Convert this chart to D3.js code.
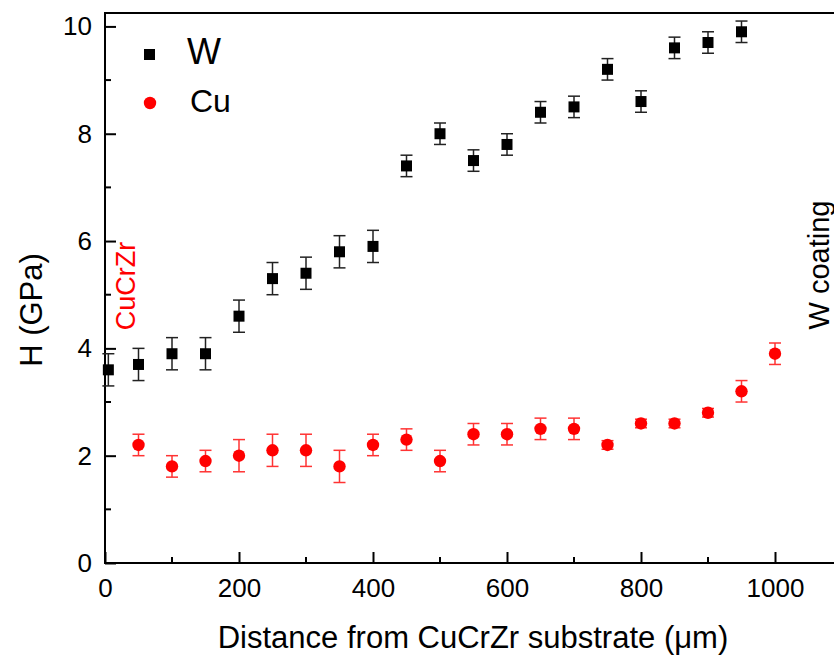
<!DOCTYPE html>
<html><head><meta charset="utf-8">
<script src="https://cdn.jsdelivr.net/npm/d3@7"></script>
<style>body{margin:0;background:#fff}svg{display:block}text{font-family:Arial,"Liberation Sans",sans-serif}</style>
</head><body>
<svg id="c" width="834" height="657"></svg>
<script>
const wX = [5,50,100,150,200,250,300,350,400,450,500,550,600,650,700,750,800,850,900,950];
const wY = [3.6,3.7,3.9,3.9,4.6,5.3,5.4,5.8,5.9,7.4,8.0,7.5,7.8,8.4,8.5,9.2,8.6,9.6,9.7,9.9];
const wErr = [0.3,0.3,0.3,0.3,0.3,0.3,0.3,0.3,0.3,0.2,0.2,0.2,0.2,0.2,0.2,0.2,0.2,0.2,0.2,0.2];
const cuX = [50,100,150,200,250,300,350,400,450,500,550,600,650,700,750,800,850,900,950,1000];
const cuY = [2.2,1.8,1.9,2.0,2.1,2.1,1.8,2.2,2.3,1.9,2.4,2.4,2.5,2.5,2.2,2.6,2.6,2.8,3.2,3.9];
const cuErr = [0.2,0.2,0.2,0.3,0.3,0.3,0.3,0.2,0.2,0.2,0.2,0.2,0.2,0.2,0.08,0.08,0.08,0.08,0.2,0.2];
const xTicks = [0,200,400,600,800,1000];
const xMinor = [100,300,500,700,900,1100];
const yTicks = [0,2,4,6,8,10];
const yMinor = [1,3,5,7,9];

const svg = d3.select("#c");
const L = 105, R = 842, T = 13, B = 563;
const x = d3.scaleLinear().domain([0,1100]).range([L,R]);
const y = d3.scaleLinear().domain([0,10.25]).range([B,T]);

// frame
svg.append("rect").attr("x",L).attr("y",T).attr("width",R-L).attr("height",B-T)
  .attr("fill","none").attr("stroke","#000").attr("stroke-width",2);

const gx = svg.append("g").attr("transform",`translate(0,${B})`)
  .call(d3.axisBottom(x).tickValues(xTicks).tickSize(-11).tickPadding(16).tickFormat(d3.format("d")));
const gy = svg.append("g").attr("transform",`translate(${L},0)`)
  .call(d3.axisLeft(y).tickValues(yTicks).tickSize(-11).tickPadding(13).tickFormat(d3.format("d")));
[gx,gy].forEach(g=>{
  g.select(".domain").remove();
  g.selectAll(".tick line").attr("stroke","#000").attr("stroke-width",2);
  g.selectAll(".tick text").attr("font-size",26).attr("fill","#000").style("font-family","Arial, 'Liberation Sans', sans-serif");
});
svg.append("g").selectAll("line").data(xMinor).join("line")
  .attr("x1",d=>x(d)).attr("x2",d=>x(d)).attr("y1",B).attr("y2",B-6).attr("stroke","#000").attr("stroke-width",2);
svg.append("g").selectAll("line").data(yMinor).join("line")
  .attr("x1",L).attr("x2",L+6).attr("y1",d=>y(d)).attr("y2",d=>y(d)).attr("stroke","#000").attr("stroke-width",2);

function errBars(xs, ys, es, color){
  const g = svg.append("g").attr("stroke",color).attr("stroke-width",1.5);
  xs.forEach((xv,i)=>{
    const cx = x(xv), y1 = y(ys[i]-es[i]), y2 = y(ys[i]+es[i]);
    g.append("line").attr("x1",cx).attr("x2",cx).attr("y1",y1).attr("y2",y2);
    g.append("line").attr("x1",cx-6).attr("x2",cx+6).attr("y1",y1).attr("y2",y1);
    g.append("line").attr("x1",cx-6).attr("x2",cx+6).attr("y1",y2).attr("y2",y2);
  });
}
errBars(wX,wY,wErr,"#222");
errBars(cuX,cuY,cuErr,"#f33");

svg.append("g").selectAll("rect").data(wX).join("rect")
  .attr("x",(d)=>x(d)-5.5).attr("y",(d,i)=>y(wY[i])-5.5).attr("width",11).attr("height",11).attr("fill","#000");
svg.append("g").selectAll("circle").data(cuX).join("circle")
  .attr("cx",d=>x(d)).attr("cy",(d,i)=>y(cuY[i])).attr("r",6.2).attr("fill","#f00");

// legend
svg.append("rect").attr("x",144).attr("y",49).attr("width",11).attr("height",11).attr("fill","#000");
svg.append("text").attr("x",187).attr("y",64).attr("font-size",36).text("W");
svg.append("circle").attr("cx",150).attr("cy",103).attr("r",6.2).attr("fill","#f00");
svg.append("text").attr("x",190).attr("y",112).attr("font-size",32).text("Cu");

// annotations
svg.append("text").attr("transform","translate(135,286) rotate(-90)").attr("text-anchor","middle")
  .attr("font-size",27).attr("fill","#f00").text("CuCrZr");
svg.append("text").attr("transform","translate(829,265) rotate(-90)").attr("text-anchor","middle")
  .attr("font-size",29).attr("fill","#000").text("W coating");

// axis titles
svg.append("text").attr("transform","translate(42,310) rotate(-90)").attr("text-anchor","middle")
  .attr("font-size",31).text("H (GPa)");
svg.append("text").attr("x",473).attr("y",648).attr("text-anchor","middle").attr("font-size",31)
  .text("Distance from CuCrZr substrate (μm)");
</script>
</body></html>
